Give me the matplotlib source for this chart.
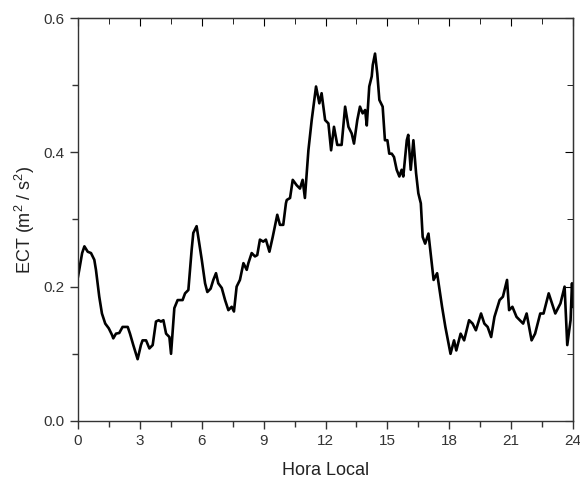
import matplotlib
matplotlib.use("Agg")
import matplotlib.pyplot as plt
from matplotlib.ticker import MultipleLocator, FormatStrFormatter

# hora local (h) y ECT (m2/s2)
hora = [0.0, 0.06, 0.2, 0.31, 0.47, 0.63, 0.79, 0.87, 1.03, 1.16, 1.32, 1.49, 1.65, 1.71,
        1.84, 2.0, 2.16, 2.41, 2.52, 2.68, 2.89, 3.05, 3.13, 3.3, 3.46, 3.62, 3.78, 3.91,
        4.02, 4.14, 4.27, 4.43, 4.51, 4.67, 4.83, 5.07, 5.19, 5.35, 5.51, 5.59, 5.75, 5.83,
        6.0, 6.16, 6.27, 6.43, 6.56, 6.69, 6.8, 6.97, 7.13, 7.29, 7.45, 7.56, 7.69, 7.85,
        8.02, 8.18, 8.26, 8.42, 8.58, 8.69, 8.82, 8.98, 9.11, 9.28, 9.44, 9.66, 9.79, 9.95,
        10.08, 10.12, 10.28, 10.41, 10.6, 10.76, 10.89, 11.0, 11.17, 11.33, 11.54, 11.7,
        11.81, 11.98, 12.14, 12.27, 12.41, 12.57, 12.78, 12.95, 13.11, 13.27, 13.38, 13.54,
        13.67, 13.8, 13.92, 14.0, 14.12, 14.24, 14.29, 14.4, 14.51, 14.61, 14.77, 14.88,
        15.0, 15.09, 15.21, 15.32, 15.45, 15.58, 15.69, 15.77, 15.94, 16.01, 16.13, 16.26,
        16.39, 16.5, 16.62, 16.71, 16.83, 16.99, 17.24, 17.41, 17.65, 17.81, 18.06, 18.23,
        18.34, 18.55, 18.72, 18.96, 19.13, 19.29, 19.54, 19.7, 19.86, 20.03, 20.19, 20.44,
        20.6, 20.8, 20.9, 21.06, 21.26, 21.58, 21.75, 21.99, 22.16, 22.41, 22.57, 22.82,
        22.98, 23.14, 23.39, 23.59, 23.72, 23.88, 23.95, 24.0]
ect = [0.215, 0.225, 0.25, 0.26, 0.252, 0.25, 0.24, 0.225, 0.185, 0.16, 0.145, 0.138, 0.128, 0.123,
       0.13, 0.131, 0.14, 0.14, 0.13, 0.113, 0.092, 0.113, 0.12, 0.12, 0.108, 0.113, 0.148, 0.15,
       0.148, 0.15, 0.13, 0.125, 0.10, 0.168, 0.18, 0.18, 0.19, 0.195, 0.255, 0.28, 0.29, 0.274,
       0.24, 0.205, 0.192, 0.197, 0.21, 0.22, 0.205, 0.198, 0.18, 0.165, 0.17, 0.163, 0.2, 0.21,
       0.235, 0.225, 0.235, 0.25, 0.245, 0.247, 0.27, 0.267, 0.27, 0.252, 0.274, 0.307, 0.292, 0.292,
       0.324, 0.329, 0.332, 0.359, 0.351, 0.346, 0.359, 0.332, 0.403, 0.448, 0.498, 0.473,
       0.488, 0.448, 0.443, 0.403, 0.438, 0.411, 0.411, 0.468, 0.438, 0.428, 0.413, 0.448,
       0.468, 0.458, 0.463, 0.44, 0.498, 0.513, 0.53, 0.547, 0.517, 0.478, 0.468, 0.418,
       0.418, 0.398, 0.398, 0.393, 0.374, 0.364, 0.374, 0.364, 0.418, 0.426, 0.374, 0.418,
       0.369, 0.339, 0.324, 0.274, 0.264, 0.279, 0.21, 0.22, 0.17, 0.14, 0.1, 0.12,
       0.105, 0.13, 0.12, 0.15, 0.145, 0.135, 0.16, 0.145, 0.14, 0.125, 0.155, 0.18,
       0.185, 0.21, 0.165, 0.17, 0.155, 0.145, 0.16, 0.12, 0.13, 0.16, 0.16, 0.19,
       0.175, 0.16, 0.175, 0.2, 0.113, 0.15, 0.205, 0.17]

plt.rcParams['font.family'] = ['Liberation Sans', 'DejaVu Sans']
plt.rcParams['mathtext.fontset'] = 'custom'
plt.rcParams['mathtext.rm'] = 'Liberation Sans'

fig = plt.figure(figsize=(5.8, 4.8), dpi=100)
ax = fig.add_axes([0.1345, 0.123, 0.8535, 0.8395])

ax.plot(hora, ect, color='black', linewidth=1.9, solid_joinstyle='round')

ax.set_xlim(0, 24)
ax.set_ylim(0, 0.6)
ax.set_xticks(range(0, 25, 3))
ax.set_yticks([0.0, 0.2, 0.4, 0.6])
ax.xaxis.set_minor_locator(MultipleLocator(1.5))
ax.yaxis.set_minor_locator(MultipleLocator(0.1))
ax.yaxis.set_major_formatter(FormatStrFormatter('%.1f'))
ax.tick_params(which='major', direction='out', length=6, width=1, labelsize=11, colors='#333333')
ax.tick_params(which='minor', direction='out', length=4, width=1, color='#333333')

# ejes superior y derecho con marcas hacia adentro (estilo Origin)
top = ax.secondary_xaxis('top')
top.set_xticks(range(0, 25, 3))
top.xaxis.set_minor_locator(MultipleLocator(1.5))
top.tick_params(which='major', direction='in', length=6, labeltop=False)
top.tick_params(which='minor', direction='in', length=4)
right = ax.secondary_yaxis('right')
right.set_yticks([0.0, 0.2, 0.4, 0.6])
right.yaxis.set_minor_locator(MultipleLocator(0.1))
right.tick_params(which='major', direction='in', length=6, labelright=False)
right.tick_params(which='minor', direction='in', length=4)

for s in ax.spines.values():
    s.set_linewidth(1)
    s.set_color('#333333')

ax.set_xlabel('Hora Local', fontsize=13, color='#222222', labelpad=10)
ax.set_ylabel(r'ECT (m$^{2}$ / s$^{2}$)', fontsize=13, color='#222222', labelpad=5)

fig.savefig('out.png', dpi=100)
